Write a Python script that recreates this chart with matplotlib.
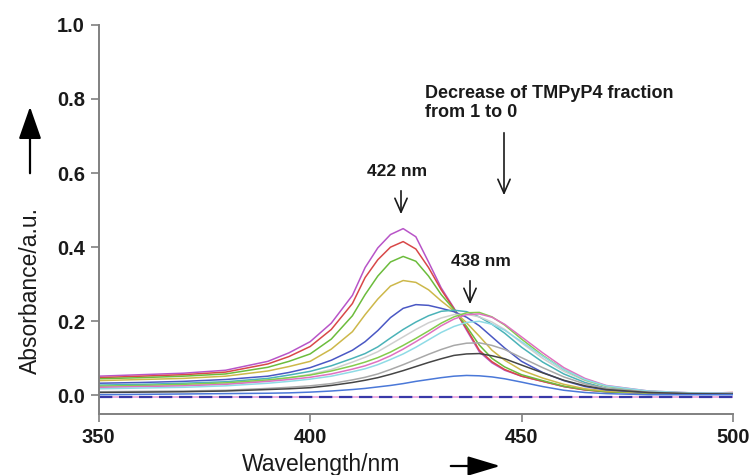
import matplotlib
matplotlib.use('Agg')
import matplotlib.pyplot as plt
from matplotlib.patches import FancyArrowPatch

plt.rcParams['font.family'] = ['Liberation Sans', 'DejaVu Sans']

# wavelength grid (nm) and absorbance, one list per spectrum
wavelength = [350, 360, 370, 380, 390, 395, 400, 405, 410, 413, 416, 419, 422, 425, 428,
              431, 434, 437, 440, 443, 446, 450, 455, 460, 465, 470, 480, 490, 500]

abs_magenta = [.052, .056, .060, .068, .092, .115, .145, .195, .270, .345, .398, .434, .450, .428, .360,
               .290, .236, .176, .118, .088, .068, .052, .038, .024, .015, .010, .006, .005, .006]
abs_red = [.048, .052, .056, .063, .085, .105, .132, .178, .248, .318, .366, .400, .415, .395, .345,
           .285, .234, .180, .122, .091, .070, .052, .038, .024, .015, .010, .006, .005, .008]
abs_green = [.045, .048, .052, .058, .076, .092, .112, .152, .215, .272, .322, .360, .375, .362, .322,
             .272, .232, .186, .136, .100, .077, .056, .040, .025, .016, .010, .006, .005, .005]
abs_yellow = [.040, .043, .046, .052, .066, .078, .092, .125, .172, .218, .260, .295, .310, .305, .285,
              .255, .228, .196, .160, .122, .095, .068, .047, .030, .018, .012, .007, .005, .005]
abs_blue = [.033, .035, .038, .043, .052, .062, .075, .095, .122, .145, .175, .210, .235, .245, .243,
            .235, .226, .211, .188, .158, .128, .092, .062, .040, .024, .015, .008, .006, .005]
abs_teal = [.028, .030, .033, .037, .046, .055, .065, .080, .100, .113, .131, .155, .178, .198, .215,
            .227, .230, .226, .212, .192, .168, .130, .090, .058, .035, .020, .010, .006, .005]
abs_silver = [.022, .024, .027, .031, .040, .047, .057, .070, .090, .103, .118, .138, .158, .178, .196,
              .209, .218, .219, .212, .198, .178, .142, .100, .065, .040, .024, .011, .006, .005]
abs_lime = [.025, .027, .030, .034, .042, .048, .055, .066, .080, .090, .102, .117, .135, .154, .174,
            .195, .212, .223, .224, .212, .190, .152, .108, .070, .042, .025, .011, .006, .005]
abs_pink = [.022, .024, .026, .030, .038, .043, .049, .058, .071, .080, .092, .107, .125, .145, .166,
            .188, .206, .218, .220, .211, .192, .158, .115, .075, .046, .027, .012, .007, .006]
abs_cyan = [.018, .020, .022, .026, .033, .038, .044, .052, .064, .072, .083, .097, .112, .130, .150,
            .170, .186, .197, .200, .192, .176, .145, .106, .070, .043, .026, .012, .007, .006]
abs_gray = [.010, .011, .012, .014, .019, .022, .026, .032, .042, .049, .058, .070, .083, .097, .111,
            .124, .135, .141, .142, .135, .124, .102, .075, .050, .031, .019, .009, .005, .004]
abs_black = [.008, .009, .010, .012, .016, .018, .021, .027, .035, .041, .048, .057, .067, .078, .089,
             .099, .108, .112, .113, .107, .099, .082, .061, .041, .026, .016, .008, .005, .004]
abs_lowblue = [.002, .003, .004, .005, .006, .007, .009, .012, .016, .019, .023, .027, .032, .038, .043,
               .048, .052, .054, .053, .050, .045, .036, .024, .014, .008, .005, .002, .002, .002]
abs_flat = [-.004, -.004, -.004, -.004, -.004, -.004, -.004, -.004, -.004, -.004, -.004, -.004, -.004,
            -.004, -.004, -.004, -.004, -.004, -.004, -.004, -.004, -.004, -.004, -.004, -.004,
            -.004, -.004, -.004, -.004]

spectra = [abs_magenta, abs_red, abs_green, abs_yellow, abs_blue, abs_teal, abs_silver,
           abs_lime, abs_pink, abs_cyan, abs_gray, abs_black, abs_lowblue]
colors = ['#b855c8', '#d84848', '#6cbc3c', '#cdb84a', '#4a58c4', '#4bb3b8', '#cfcfcf',
          '#84cc4c', '#e070c0', '#8fdbe6', '#a8a8a8', '#454545', '#4a78d8']

W, H = 751, 475
fig = plt.figure(figsize=(W / 100, H / 100), dpi=100)
ax = fig.add_axes([98.7 / W, 1 - 414 / H, (733 - 98.7) / W, (414 - 24.7) / H])


def fp(x, y):
    # pixel position -> figure fraction
    return (x / W, 1 - y / H)


for vals, c in zip(spectra, colors):
    ax.plot(wavelength, vals, color=c, lw=1.1)
ax.plot(wavelength, abs_flat, color='#e8a0dc', lw=1.2)
ax.plot(wavelength, abs_flat, color='#3838a8', lw=1.6, dashes=(6, 3))

ax.set_xlim(350, 500)
ax.set_ylim(-0.05, 1.0)
ax.set_xticks([350, 400, 450, 500])
ax.set_yticks([0.0, 0.2, 0.4, 0.6, 0.8, 1.0])
ax.set_yticklabels(['0.0', '0.2', '0.4', '0.6', '0.8', '1.0'])
for s in ['top', 'right']:
    ax.spines[s].set_visible(False)
for s in ['left', 'bottom']:
    ax.spines[s].set_color('#808080')
    ax.spines[s].set_linewidth(1.4)
ax.tick_params(direction='out', length=6, width=1.2, color='#808080',
               labelsize=14.5, labelcolor='#1a1a1a', pad=4)
for lab in ax.get_xticklabels() + ax.get_yticklabels():
    lab.set_fontweight('bold')

# axis labels with arrows
fig.text(*fp(30, 290), 'Absorbance/a.u.', rotation=90, ha='center', va='center',
         fontsize=16.5, color='#1a1a1a')
fig.text(*fp(321, 465), 'Wavelength/nm', ha='center', va='center',
         fontsize=16.5, color='#1a1a1a')
fig.add_artist(FancyArrowPatch(
    fp(30, 176), fp(30, 104), transform=fig.transFigure,
    arrowstyle='-|>,head_length=1.0,head_width=0.35', mutation_scale=20,
    lw=1.6, color='black'))
fig.add_artist(FancyArrowPatch(
    fp(448, 466), fp(503, 466), transform=fig.transFigure,
    arrowstyle='-|>,head_length=1.0,head_width=0.3', mutation_scale=20,
    lw=1.6, color='black'))

# annotations
fig.text(*fp(397, 171), '422 nm', ha='center', va='center', fontsize=12.5,
         fontweight='bold', color='#1a1a1a')
fig.text(*fp(481, 261), '438 nm', ha='center', va='center', fontsize=12.5,
         fontweight='bold', color='#1a1a1a')
fig.text(*fp(425, 103), 'Decrease of TMPyP4 fraction\nfrom 1 to 0', ha='left', va='center',
         fontsize=13, fontweight='bold', color='#1a1a1a', linespacing=1.1)
for x0, y0, y1 in [(401, 188, 217), (470, 278, 307), (504, 130, 198)]:
    fig.add_artist(FancyArrowPatch(
        fp(x0, y0), fp(x0, y1), transform=fig.transFigure,
        arrowstyle='->,head_length=0.5,head_width=0.22', mutation_scale=20,
        lw=1.2, color='#1a1a1a'))

fig.savefig('out.png', dpi=100, facecolor='white')
